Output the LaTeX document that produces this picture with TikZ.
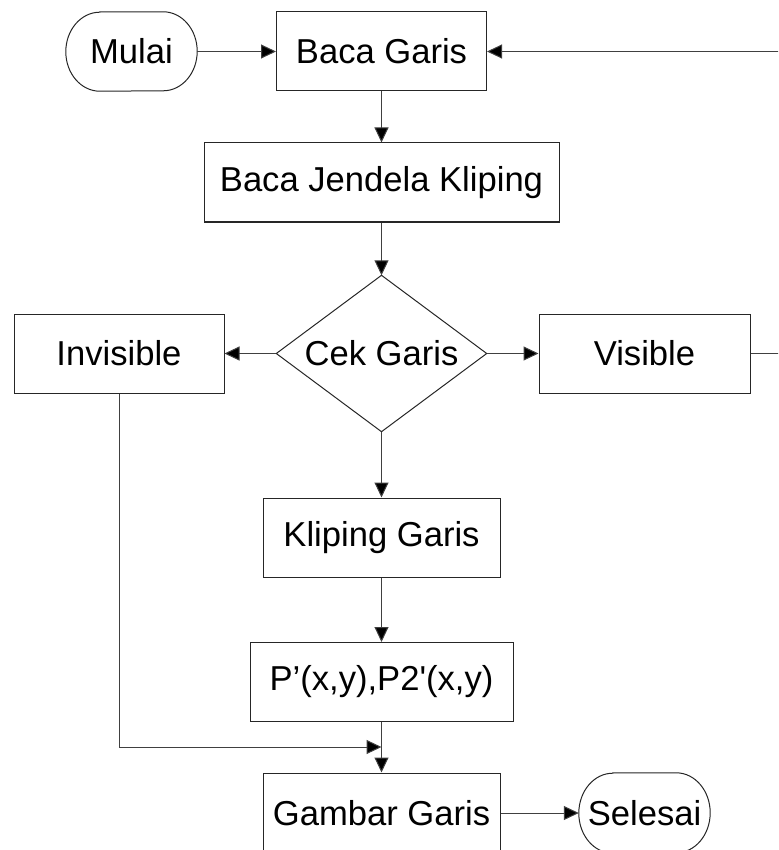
\documentclass[tikz,border=0pt]{standalone}
\usepackage{fontspec}
\newfontfamily\arialf{Liberation Sans}
\usetikzlibrary{arrows.meta}
\begin{document}
\begin{tikzpicture}[x=1pt,y=-1pt,
  lbl/.style={font=\arialf\fontsize{34.6}{40}\selectfont, inner sep=0pt},
  box/.style={lbl, draw=black!85, line width=1pt, rectangle, minimum height=79pt},
  term/.style={lbl, rectangle, minimum width=131pt, minimum height=79pt},
  termline/.style={draw=black!85, line width=1pt},
  conn/.style={draw=black!75, line width=1pt, -{Triangle[length=15pt,width=14pt,fill=black]}}]
\useasboundingbox (0,0) rectangle (778,850);
\clip (0,0) rectangle (778,850);

\node[term] (mulai) at (131.5,51.5) {Mulai};
\node[box, minimum width=210pt] (baca) at (381.5,51.5) {Baca Garis};
\node[box, minimum width=355pt] (bjk) at (381.5,182.5) {Baca Jendela Kliping};
\node[lbl, rectangle, minimum width=210pt, minimum height=156pt] (cek) at (381.5,353.5) {Cek Garis};
\node[box, minimum width=210pt] (inv) at (119,353.5) {Invisible};
\node[box, minimum width=211pt] (vis) at (644.5,353.5) {Visible};
\node[box, minimum width=237pt] (klip) at (381.5,537.5) {Kliping Garis};
\node[box, minimum width=263pt] (pts) at (381.5,682) {P’(x,y),P2'(x,y)};
\node[box, minimum width=237pt, minimum height=80pt] (gam) at (381.5,813) {Gambar Garis};
\node[term, minimum height=80pt] (sel) at (644.5,813) {Selesai};
\coordinate (j) at (381.5,747);

% diamond outline
\draw[termline] (cek.north) -- (cek.east) -- (cek.south) -- (cek.west) -- cycle;

% terminal outlines
\draw[termline] ([xshift=34pt]mulai.north west) -- ([xshift=-34pt]mulai.north east)
  arc[start angle=90, end angle=-90, x radius=34pt, y radius=39.5pt]
  -- ([xshift=34pt]mulai.south west)
  arc[start angle=270, end angle=90, x radius=34pt, y radius=39.5pt] -- cycle;
\draw[termline] ([xshift=34pt]sel.north west) -- ([xshift=-34pt]sel.north east)
  arc[start angle=90, end angle=-90, x radius=34pt, y radius=40pt]
  -- ([xshift=34pt]sel.south west)
  arc[start angle=270, end angle=90, x radius=34pt, y radius=40pt] -- cycle;

% connectors
\draw[conn] (mulai) -- (baca);
\draw[conn] (baca) -- (bjk);
\draw[conn] (bjk) -- (cek.north);
\draw[conn] (cek.west) -- (inv);
\draw[conn] (cek.east) -- (vis);
\draw[conn] (cek.south) -- (klip);
\draw[conn] (klip) -- (pts);
\draw[conn] (pts) -- (gam);
\draw[conn] (inv) |- (j);
\draw[conn] (gam) -- (sel);
\draw[conn] (vis.east) -- ++(60,0) |- (baca.east);
\end{tikzpicture}
\end{document}
